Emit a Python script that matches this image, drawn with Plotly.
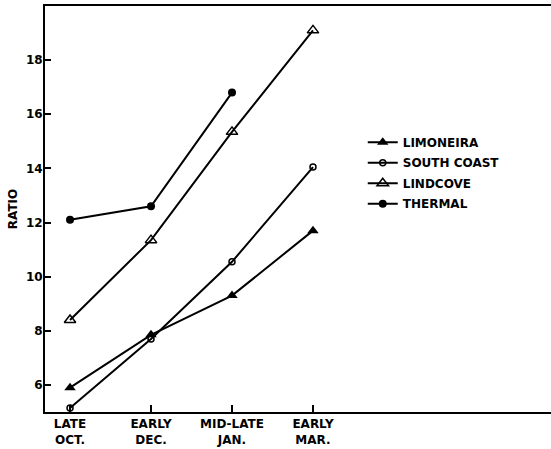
import plotly.graph_objects as go

periods = ["LATE<br>OCT.", "EARLY<br>DEC.", "MID-LATE<br>JAN.", "EARLY<br>MAR."]
period_idx = [0, 1, 2, 3]

limoneira = [5.9, 7.85, 9.3, 11.7]
south_coast = [5.15, 7.7, 10.55, 14.05]
lindcove = [8.4, 11.35, 15.35, 19.1]
thermal = [12.1, 12.6, 16.8]

y_ticks = [6, 8, 10, 12, 14, 16, 18]

FONT = "DejaVu Sans"

series = [
    ("LIMONEIRA", limoneira, dict(symbol="triangle-up", size=10, color="black")),
    ("SOUTH COAST", south_coast, dict(symbol="circle-open", size=6, color="black", line=dict(width=1.5, color="black"))),
    ("LINDCOVE", lindcove, dict(symbol="triangle-up-open", size=10, color="black", line=dict(width=1.5, color="black"))),
    ("THERMAL", thermal, dict(symbol="circle", size=8, color="black")),
]

fig = go.Figure()
for name, vals, mk in series:
    fig.add_trace(go.Scatter(
        x=period_idx[:len(vals)], y=vals, name=name, legendgroup=name,
        mode="lines+markers",
        line=dict(color="black", width=2),
        marker=mk,
    ))

fig.update_layout(
    width=560, height=449,
    margin=dict(l=45, r=0, t=6, b=37),
    paper_bgcolor="white", plot_bgcolor="white",
    font=dict(family=FONT, color="black", size=12, weight="bold"),
    showlegend=True,
    legend=dict(
        x=0.617, y=0.70, xanchor="left", yanchor="top",
        font=dict(family=FONT, size=12, color="black", weight="bold"),
        bgcolor="rgba(0,0,0,0)", borderwidth=0,
        tracegroupgap=1.5,
    ),
    xaxis=dict(
        range=[-0.309, 6.05], automargin=False,
        tickmode="array", tickvals=period_idx, ticktext=periods,
        ticks="inside", ticklen=7, tickwidth=1.5, tickcolor="black",
        showline=True, linecolor="black", linewidth=2, mirror=True,
        showgrid=False, zeroline=False,
        tickfont=dict(family=FONT, size=12, color="black", weight="bold"),
    ),
    yaxis=dict(
        range=[5, 20], automargin=False,
        tickmode="array", tickvals=y_ticks, ticktext=[str(v) for v in y_ticks],
        ticks="inside", ticklen=6, tickwidth=1.5, tickcolor="black",
        ticklabelstandoff=-2,
        showline=True, linecolor="black", linewidth=2, mirror=False,
        showgrid=False, zeroline=False,
        tickfont=dict(family=FONT, size=12, color="black", weight="bold"),
        title=dict(text="RATIO", standoff=6,
                   font=dict(family=FONT, size=12, color="black", weight="bold")),
    ),
)

fig.write_html("out.html", config={"displayModeBar": False},
               post_script="document.body.style.margin='0';document.body.style.overflow='hidden';")
